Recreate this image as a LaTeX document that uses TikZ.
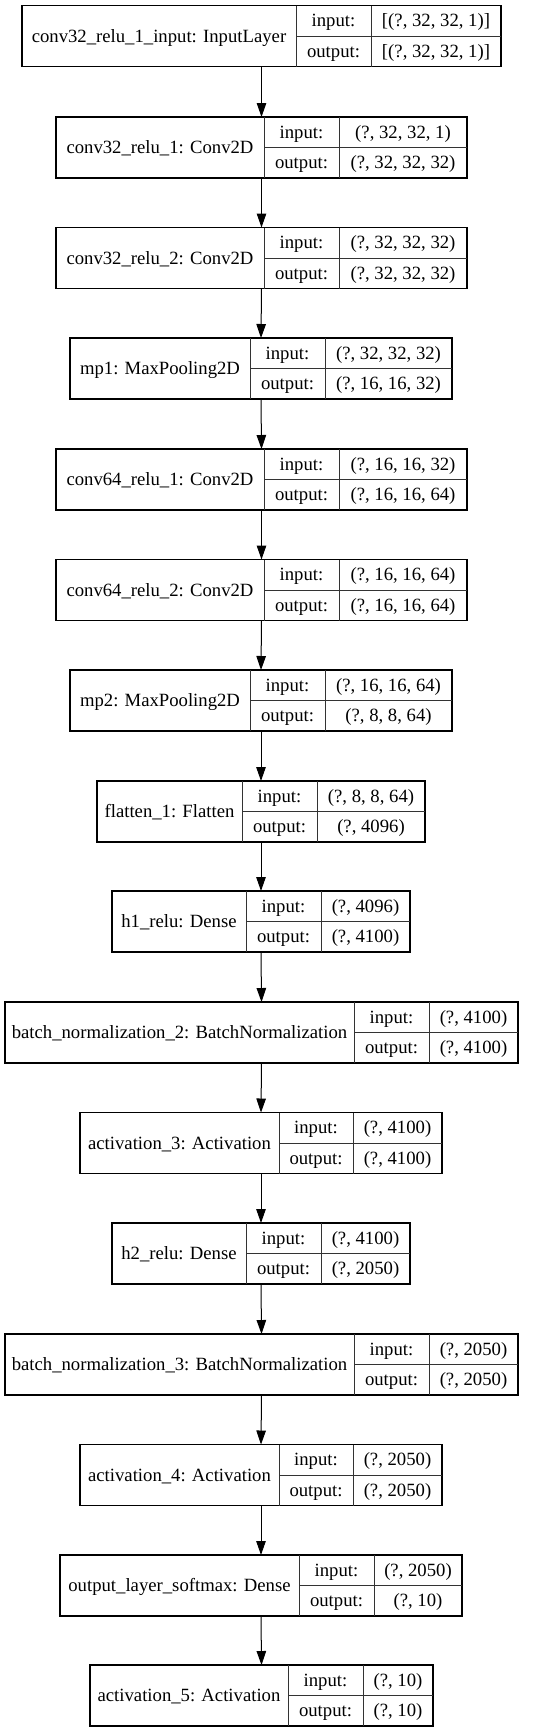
\documentclass[tikz,border=0pt]{standalone}
\usepackage{fontspec}
\setmainfont{Liberation Serif}
\usetikzlibrary{arrows.meta}
\tikzset{
  lbox/.style={draw=black, line width=1.05pt, fill=white, minimum height=61pt, inner sep=0pt, outer sep=0pt},
  ldiv/.style={draw=black!80, line width=0.95pt},
  ltxt/.style={inner sep=0pt, anchor=base, font=\fontsize{18.7}{22}\selectfont},
  arr/.style={draw=black, line width=1pt, -{Triangle[length=14pt,width=9.5pt]}}
}
\newcommand{\mylayer}[9]{%
  \node[lbox, minimum width={(#6-#3)*1pt}] (#1) at ({(#3+#6)/2},{#2+30.5}) {};
  \draw[ldiv] ({#4},{#2}) -- ({#4},{#2+61});
  \draw[ldiv] ({#5},{#2}) -- ({#5},{#2+61});
  \draw[ldiv] ({#4},{#2+30.5}) -- ({#6},{#2+30.5});
  \node[ltxt] (#1n) at ({(#3+#4)/2},{#2+30.5+6}) {#7};
  \node[ltxt] (#1il) at ({(#4+#5)/2},{#2+15.25+6}) {input:};
  \node[ltxt] (#1ol) at ({(#4+#5)/2},{#2+45.75+6}) {output:};
  \node[ltxt] (#1iv) at ({(#5+#6)/2},{#2+15.25+6}) {#8};
  \node[ltxt] (#1ov) at ({(#5+#6)/2},{#2+45.75+6}) {#9};
}
\begin{document}
\begin{tikzpicture}[x=1pt,y=-1pt]
\fill[white] (0,0) rectangle (541,1733);
\useasboundingbox (0,0) rectangle (541,1733);
\mylayer{L1}{5.7}{22}{296}{371}{501}{conv32\_relu\_1\_input: InputLayer}{[(?, 32, 32, 1)]}{[(?, 32, 32, 1)]}
\mylayer{L2}{117}{56}{264}{339}{467}{conv32\_relu\_1: Conv2D}{(?, 32, 32, 1)}{(?, 32, 32, 32)}
\mylayer{L3}{227.5}{56}{264}{339}{467}{conv32\_relu\_2: Conv2D}{(?, 32, 32, 32)}{(?, 32, 32, 32)}
\mylayer{L4}{338}{70}{250}{325}{452}{mp1: MaxPooling2D}{(?, 32, 32, 32)}{(?, 16, 16, 32)}
\mylayer{L5}{449}{56}{264}{339}{467}{conv64\_relu\_1: Conv2D}{(?, 16, 16, 32)}{(?, 16, 16, 64)}
\mylayer{L6}{559.5}{56}{264}{339}{467}{conv64\_relu\_2: Conv2D}{(?, 16, 16, 64)}{(?, 16, 16, 64)}
\mylayer{L7}{670}{70}{250}{325}{452}{mp2: MaxPooling2D}{(?, 16, 16, 64)}{(?, 8, 8, 64)}
\mylayer{L8}{781}{97}{242}{317}{425}{flatten\_1: Flatten}{(?, 8, 8, 64)}{(?, 4096)}
\mylayer{L9}{891}{112}{246}{321}{410}{h1\_relu: Dense}{(?, 4096)}{(?, 4100)}
\mylayer{L10}{1002}{5}{354}{429}{518}{batch\_normalization\_2: BatchNormalization}{(?, 4100)}{(?, 4100)}
\mylayer{L11}{1112.5}{80}{279}{353}{442}{activation\_3: Activation}{(?, 4100)}{(?, 4100)}
\mylayer{L12}{1223}{112}{246}{321}{410}{h2\_relu: Dense}{(?, 4100)}{(?, 2050)}
\mylayer{L13}{1334}{5}{354}{429}{518}{batch\_normalization\_3: BatchNormalization}{(?, 2050)}{(?, 2050)}
\mylayer{L14}{1444.5}{80}{279}{353}{442}{activation\_4: Activation}{(?, 2050)}{(?, 2050)}
\mylayer{L15}{1555}{60}{299}{374}{462}{output\_layer\_softmax: Dense}{(?, 2050)}{(?, 10)}
\mylayer{L16}{1665}{90}{288}{363}{433}{activation\_5: Activation}{(?, 10)}{(?, 10)}
\foreach \a/\b in {L1/L2,L2/L3,L3/L4,L4/L5,L5/L6,L6/L7,L7/L8,L8/L9,L9/L10,L10/L11,L11/L12,L12/L13,L13/L14,L14/L15,L15/L16}
  \draw[arr] (\a.south) -- (\b.north);
\end{tikzpicture}
\end{document}
